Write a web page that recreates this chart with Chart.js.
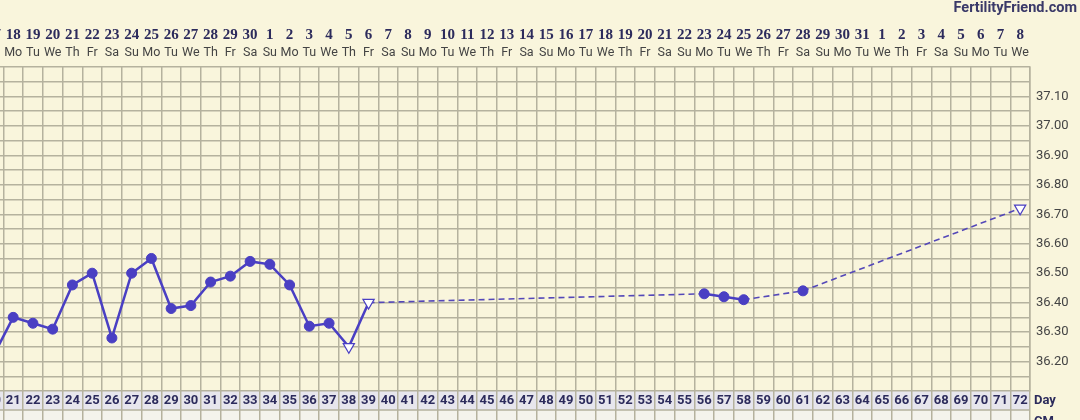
<!DOCTYPE html>
<html>
<head>
<meta charset="utf-8">
<title>Temperature chart</title>
<script src="https://cdn.jsdelivr.net/npm/chart.js@4.4.1/dist/chart.umd.min.js"></script>
<style>
  html, body { margin: 0; padding: 0; background: #f9f5dc; overflow: hidden; }
  #wrap { position: relative; width: 1080px; height: 420px; overflow: hidden; }
  #chart { position: absolute; left: -20px; top: 0; }
</style>
</head>
<body>
<div id="wrap"><canvas id="chart" width="1100" height="420"></canvas></div>
<script>
// cycle day of each reading and the temperature taken
const cycleDays = [20, 21, 22, 23, 24, 25, 26, 27, 28, 29, 30, 31, 32, 33, 34, 35, 36, 37, 38, 39, 56, 57, 58, 61, 72];
const temps = [36.22, 36.35, 36.33, 36.31, 36.46, 36.50, 36.28, 36.50, 36.55, 36.38, 36.39, 36.47, 36.49, 36.54, 36.53,
  36.46, 36.32, 36.33, 36.25, 36.40, 36.43, 36.42, 36.41, 36.44, 36.72];
// readings drawn as open triangles
const openDays = [38, 39, 72];

// axis labels
const dayNumbers = [20, 21, 22, 23, 24, 25, 26, 27, 28, 29, 30, 31, 32, 33, 34, 35, 36, 37, 38, 39, 40, 41, 42, 43, 44, 45,
  46, 47, 48, 49, 50, 51, 52, 53, 54, 55, 56, 57, 58, 59, 60, 61, 62, 63, 64, 65, 66, 67, 68, 69, 70, 71, 72];
const dateLabels = ['17', '18', '19', '20', '21', '22', '23', '24', '25', '26', '27', '28', '29', '30',
  '1', '2', '3', '4', '5', '6', '7', '8', '9', '10', '11', '12', '13', '14', '15', '16', '17', '18', '19', '20',
  '21', '22', '23', '24', '25', '26', '27', '28', '29', '30', '31', '1', '2', '3', '4', '5', '6', '7', '8'];
const weekdayLabels = ('Su Mo Tu We Th Fr Sa Su Mo Tu We Th Fr Sa Su Mo Tu We Th Fr Sa Su Mo Tu We Th Fr Sa ' +
  'Su Mo Tu We Th Fr Sa Su Mo Tu We Th Fr Sa Su Mo Tu We Th Fr Sa Su Mo Tu We').split(' ');
const tempTicks = [36.10, 36.15, 36.20, 36.25, 36.30, 36.35, 36.40, 36.45, 36.50, 36.55, 36.60, 36.65, 36.70,
  36.75, 36.80, 36.85, 36.90, 36.95, 37.00, 37.05, 37.10, 37.15, 37.20];
const tempLabels = ['36.20', '36.30', '36.40', '36.50', '36.60', '36.70', '36.80', '36.90', '37.00', '37.10'];

const cream = '#f9f5dc';
const gridColor = '#b5b29e';
const lineColor = '#4a3fc3';
const navy = '#2c2b5c';

Chart.defaults.font.family = 'Roboto, "Liberation Sans", sans-serif';

const isOpen = ctx => openDays.indexOf(cycleDays[ctx.dataIndex]) >= 0;
const isGap = ctx => ctx.p1.parsed.x - ctx.p0.parsed.x > 1;
const dayTicks = scale => { scale.ticks = dayNumbers.map(v => ({ value: v })); };
const noSidePadding = scale => { scale.paddingLeft = 0; scale.paddingRight = 0; };

const rowsPlugin = {
  id: 'rows',
  beforeDraw(chart) {
    const { ctx, chartArea } = chart;
    ctx.save();
    ctx.fillStyle = cream;
    ctx.fillRect(0, 0, chart.width, chart.height);
    ctx.fillStyle = '#e7e6ed';
    ctx.fillRect(0, chartArea.bottom, chartArea.right, 19);
    ctx.fillStyle = '#f4f3ec';
    ctx.fillRect(0, chartArea.bottom + 19, chartArea.right, chart.height);
    ctx.strokeStyle = gridColor;
    ctx.lineWidth = 1.5;
    ctx.beginPath();
    ctx.moveTo(0, chartArea.bottom + 19);
    ctx.lineTo(chartArea.right, chartArea.bottom + 19);
    ctx.stroke();
    ctx.restore();
  },
  afterDraw(chart) {
    const { ctx, chartArea } = chart;
    ctx.save();
    ctx.fillStyle = navy;
    ctx.font = 'bold 13px Roboto, sans-serif';
    ctx.textBaseline = 'middle';
    ctx.fillText('Day', chartArea.right + 4, chartArea.bottom + 9.5);
    ctx.textBaseline = 'top';
    ctx.fillText('CM', chartArea.right + 4, chartArea.bottom + 24);
    ctx.restore();
  }
};

new Chart(document.getElementById('chart'), {
  type: 'line',
  data: {
    datasets: [
      {
        data: cycleDays.map((d, i) => ({ x: d, y: temps[i] })),
        xAxisID: 'x',
        yAxisID: 'y',
        borderColor: lineColor,
        borderWidth: 2.5,
        tension: 0,
        pointStyle: ctx => (isOpen(ctx) ? 'triangle' : 'circle'),
        pointRotation: ctx => (isOpen(ctx) ? 180 : 0),
        pointRadius: ctx => (isOpen(ctx) ? 6.5 : 5),
        pointBackgroundColor: ctx => (isOpen(ctx) ? '#ffffff' : lineColor),
        pointBorderColor: lineColor,
        pointBorderWidth: ctx => (isOpen(ctx) ? 1.2 : 1),
        segment: {
          borderDash: ctx => (isGap(ctx) ? [6, 4] : undefined),
          borderWidth: ctx => (isGap(ctx) ? 1.6 : undefined),
          borderColor: ctx => (isGap(ctx) ? '#5448b8' : undefined)
        }
      }
    ]
  },
  options: {
    responsive: false,
    animation: false,
    layout: { autoPadding: false, padding: { left: 3.56, right: 3, top: 0, bottom: 0 } },
    plugins: {
      legend: { display: false },
      tooltip: { enabled: false },
      title: {
        display: true,
        text: 'FertilityFriend.com',
        align: 'end',
        color: '#3a3968',
        font: { family: 'Roboto, sans-serif', size: 14.5, weight: 'bold' },
        padding: { top: 0, bottom: 4.6 }
      }
    },
    scales: {
      x: {
        type: 'linear',
        position: 'bottom',
        min: 19.5,
        max: 72.5,
        afterBuildTicks: dayTicks,
        afterFit: scale => { scale.height = 29; noSidePadding(scale); },
        grid: { offset: true, color: gridColor, lineWidth: 1.5, tickLength: 29 },
        border: { display: false },
        ticks: {
          autoSkip: false,
          maxRotation: 0,
          padding: -27.3,
          color: navy,
          font: { size: 13, weight: 'bold' },
          callback: (value, index) => String(dayNumbers[index])
        }
      },
      xdow: {
        type: 'linear',
        position: 'top',
        weight: 0,
        min: 19.5,
        max: 72.5,
        afterBuildTicks: dayTicks,
        afterFit: scale => { scale.height = 24; noSidePadding(scale); },
        grid: { display: false },
        border: { display: false },
        ticks: {
          autoSkip: false,
          maxRotation: 0,
          padding: -1,
          color: '#444444',
          font: { size: 12.5 },
          callback: (value, index) => weekdayLabels[index]
        }
      },
      xdate: {
        type: 'linear',
        position: 'top',
        weight: 1,
        min: 19.5,
        max: 72.5,
        afterBuildTicks: dayTicks,
        afterFit: scale => { scale.height = 21; noSidePadding(scale); },
        grid: { display: false },
        border: { display: false },
        ticks: {
          autoSkip: false,
          maxRotation: 0,
          padding: -9,
          color: navy,
          font: { family: '"Liberation Serif", serif', size: 15, weight: 'bold' },
          callback: (value, index) => dateLabels[index]
        }
      },
      y: {
        type: 'linear',
        position: 'right',
        min: 36.1,
        max: 37.2,
        afterBuildTicks: scale => { scale.ticks = tempTicks.map(v => ({ value: v })); },
        afterFit: scale => { scale.width = 47; },
        grid: { color: gridColor, lineWidth: 1.5, drawTicks: false },
        border: { color: gridColor, width: 1.5 },
        ticks: {
          autoSkip: false,
          padding: 6,
          color: '#444444',
          font: { size: 13 },
          callback: value => (tempLabels.indexOf(value.toFixed(2)) >= 0 ? value.toFixed(2) : '')
        }
      }
    }
  },
  plugins: [rowsPlugin]
});
</script>
</body>
</html>
